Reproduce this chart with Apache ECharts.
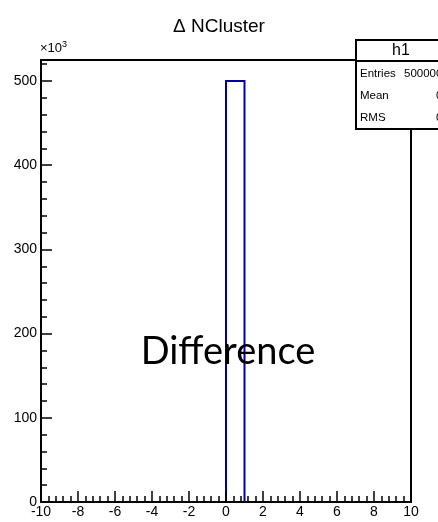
<!DOCTYPE html>
<html>
<head>
<meta charset="utf-8">
<script src="https://cdn.jsdelivr.net/npm/echarts@6/dist/echarts.min.js"></script>
<style>
html,body{margin:0;padding:0;background:#fff;}
#c{width:438px;height:522px;}
</style>
</head>
<body>
<div id="c"></div>
<script>
// Histogram bins (lower edges, width 1) and counts in units of 10^3
const binLow = [-10,-9,-8,-7,-6,-5,-4,-3,-2,-1,0,1,2,3,4,5,6,7,8,9];
const counts = [0,0,0,0,0,0,0,0,0,0,500,0,0,0,0,0,0,0,0,0];
const binWidth = 1;
const xTicks = [-10,-8,-6,-4,-2,0,2,4,6,8,10];
const yTicks = [0,100,200,300,400,500];
const titleText = 'Δ NCluster';
const statsName = 'h1';
const statsRows = [['Entries','500000'],['Mean','0'],['RMS','0']];
const overlayText = 'Difference';

const FONT = '"Liberation Sans", Arial, Helvetica, sans-serif';
const data = binLow.map((lo, i) => [lo, counts[i]]);

const chart = echarts.init(document.getElementById('c'), null, {renderer:'canvas'});
const statsGraphics = [];
statsGraphics.push({type:'rect', z:100, shape:{x:356, y:40, width:100, height:89}, style:{fill:'#fff', stroke:'#000', lineWidth:2}});
statsGraphics.push({type:'line', z:101, shape:{x1:356, y1:61, x2:440, y2:61}, style:{stroke:'#000', lineWidth:2}});
statsGraphics.push({type:'text', z:101, x:401, y:51, style:{text:statsName, font:'16px '+FONT, fill:'#000', align:'center', verticalAlign:'middle'}});
statsRows.forEach((r, i) => {
  const yy = 74 + i*22;
  statsGraphics.push({type:'text', z:101, x:360, y:yy, style:{text:r[0], font:'11.5px '+FONT, fill:'#000', align:'left', verticalAlign:'middle'}});
  statsGraphics.push({type:'text', z:101, x:(r[1].length>1?404:436), y:yy, style:{text:r[1], font:'11.5px '+FONT, fill:'#000', align:'left', verticalAlign:'middle'}});
});

const option = {
  backgroundColor:'#fff',
  animation:false,
  title:{text:titleText, left:'center', top:12, textStyle:{fontFamily:FONT, fontSize:19, fontWeight:'normal', color:'#000'}},
  grid:{left:41, right:27, top:60, bottom:20, show:true, borderColor:'#000', borderWidth:2, backgroundColor:'transparent'},
  xAxis:{type:'value', min:xTicks[0], max:xTicks[xTicks.length-1], interval:2, z:10,
    axisLine:{show:true, onZero:false, lineStyle:{color:'#000', width:2}},
    axisTick:{show:true, inside:true, length:11, lineStyle:{color:'#000', width:1.5}},
    minorTick:{show:true, splitNumber:5, length:6, lineStyle:{color:'#000', width:1.5}},
    axisLabel:{color:'#000', fontFamily:FONT, fontSize:14, margin:3},
    splitLine:{show:false}},
  yAxis:[
    {type:'value', min:0, max:525, interval:100, z:10, position:'left',
      axisLine:{show:true, onZero:false, lineStyle:{color:'#000', width:2}},
      axisTick:{show:true, inside:true, length:11, lineStyle:{color:'#000', width:1.5}},
      axisLabel:{color:'#000', fontFamily:FONT, fontSize:14, margin:4, showMaxLabel:false,
        formatter:v => (yTicks.indexOf(v) >= 0 ? String(v) : '')},
      splitLine:{show:false}},
    {type:'value', min:0, max:525, interval:20, z:10, position:'left',
      axisLine:{show:false, onZero:false},
      axisTick:{show:true, inside:true, length:6, lineStyle:{color:'#000', width:1.5}},
      axisLabel:{show:false},
      splitLine:{show:false}}
  ],
  graphic:[
    {type:'text', z:50, left:40, top:40, style:{rich:{a:{fontFamily:FONT, fontSize:13, fill:'#000'}, s:{fontFamily:FONT, fontSize:9, fill:'#000', verticalAlign:'top', padding:[0,0,8,0]}}, text:'{a|×10}{s|3}'}},
    {type:'text', z:50, x:228, y:352, style:{text:overlayText, font:'38px Lato, "Open Sans", sans-serif', fill:'#000', align:'center', verticalAlign:'middle'}},
    ...statsGraphics
  ],
  series:[{
    type:'custom', xAxisIndex:0, yAxisIndex:0, z:5,
    data:data,
    renderItem:function(params, api){
      const lo = api.value(0), c = api.value(1);
      if (c <= 0) return null;
      const p0 = api.coord([lo, 0]);
      const p1 = api.coord([lo, c]);
      const p2 = api.coord([lo + binWidth, c]);
      const p3 = api.coord([lo + binWidth, 0]);
      return {type:'polyline', shape:{points:[p0,p1,p2,p3]}, style:{stroke:'#0000a0', lineWidth:2, fill:null}};
    }
  }]
};
chart.setOption(option);
</script>
</body>
</html>
